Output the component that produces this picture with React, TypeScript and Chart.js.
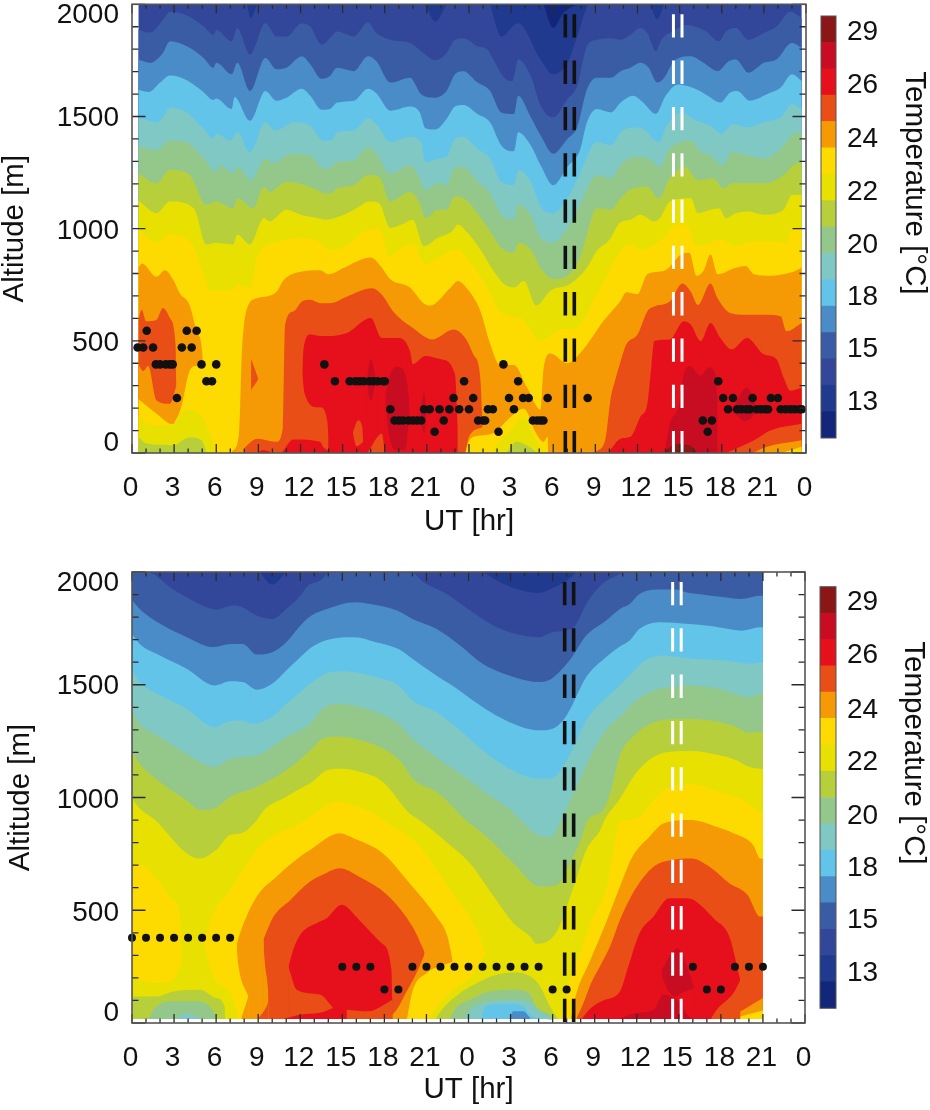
import React, { useEffect, useRef } from "react";
import { Chart, registerables } from "chart.js";
Chart.register(...registerables);

type P = number[][];
const FONT = "'Liberation Sans', Arial, sans-serif";
const FS = 28;
const TITLE_FS = 29.5;

// band colours, coldest to warmest
const bandColors = ["#13277a","#1f3a8f","#33479a","#3a5ca5","#4a8cc8","#62c4e8","#80c8c4","#93c88a","#b8cf3c","#e8e000","#fedb00","#f59a05","#e84e15","#e60f1c","#c80d22","#8a1618"];
const colorbarLabels = ["29","26","24","22","20","18","15","13"];
const colorbarLabelAt = [15.4,13.39,11.32,9.33,7.3,5.32,3.35,1.34];
const xTickLabels = ["0","3","6","9","12","15","18","21","0","3","6","9","12","15","18","21","0"];
const yTickLabels = ["0","500","1000","1500","2000"];
const yTickLabelAt = [45,487,987,1494,1950];
const blackDash = [30.86,31.5];
const whiteDash = [38.56,39.17];

// ---------- upper panel: isotherm heights [hour, metres] ----------
const tBase:P=[[.45,2000],[47.7,2000]];
const tDark1:P=[[8.2,2000],[8.45,1938],[8.9,2000]];
const tDark2:P=[[20.9,2000],[21.6,1923],[22.4,2000]];
const tDark3:P=[[25.5,2000],[26.3,1857],[27.5,1916],[29.1,1754],[30,1688],[31,1739],[31.7,1857],[32.4,1989],[32.5,2000]];
const tDark4:P=[[36.9,2000],[37.4,1933],[37.9,2000]];
const tNavy:P=[[29.3,2000],[30,1894],[30.7,1960],[31.7,2000]];
const tA:P=[[.45,1886],[1.3,1874],[2.2,1930],[2.7,1967],[4.1,1945],[5.1,1901],[5.8,1864],[6,1886],[7.1,1835],[7.5,1894],[8.4,1776],[9.5,1916],[10.3,1857],[11,1857],[12.1,1916],[12.7,1901],[13.5,1820],[14.2,1857],[14.6,1879],[15.8,1857],[16.8,1919],[17.4,1872],[18.4,1842],[19.8,1827],[20.6,1791],[21.6,1751],[22.4,1783],[23,1842],[23.6,1849],[24.6,1813],[25.3,1798],[25.6,1768],[26.5,1673],[27.1,1658],[27.5,1754],[28.4,1680],[29.1,1548],[30,1496],[31,1577],[31.7,1636],[32.4,1813],[33.1,1842],[34.1,1849],[34.8,1842],[35.5,1864],[36.2,1894],[36.7,1872],[37.3,1791],[37.7,1842],[38.5,1879],[39.5,1908],[40.9,1879],[41.8,1835],[42.3,1879],[43,1894],[43.9,1842],[45,1872],[45.9,1901],[46.9,1967],[47.7,1938]];
const tB:P=[[.45,1754],[1.3,1739],[2.2,1783],[2.7,1835],[3.9,1813],[5.1,1761],[5.8,1717],[6,1739],[7.1,1688],[7.5,1739],[8.4,1614],[9.5,1761],[10.3,1710],[11,1717],[12.1,1768],[12.7,1732],[13.5,1668],[14.1,1680],[14.6,1717],[15.8,1702],[16.8,1768],[17.4,1746],[18.4,1651],[19.8,1673],[20.6,1599],[21.5,1584],[22.4,1614],[23,1688],[23.6,1702],[24.6,1651],[25.5,1614],[26.3,1518],[27.2,1511],[27.5,1592],[28.4,1496],[29.1,1415],[30,1334],[31,1400],[31.7,1452],[32.4,1621],[33.1,1673],[34.1,1673],[34.8,1702],[35.5,1717],[36.2,1739],[36.8,1717],[37.4,1651],[37.9,1673],[38.6,1746],[39.8,1768],[40.7,1739],[41.7,1702],[42.5,1746],[43,1754],[43.9,1695],[45,1739],[45.9,1754],[47,1827],[47.7,1805]];
const tC:P=[[.45,1618],[1.2,1609],[2,1651],[2.7,1683],[3.9,1662],[5,1614],[5.8,1574],[6,1580],[7.1,1533],[7.3,1587],[8.4,1481],[9.5,1614],[10.3,1570],[11,1584],[12.1,1624],[12.7,1592],[13.5,1530],[14.1,1533],[14.6,1562],[15.8,1570],[16.8,1624],[17.4,1604],[18.4,1526],[19.8,1545],[20.5,1518],[20.9,1448],[21.6,1442],[22.4,1489],[23,1545],[23.6,1551],[24.6,1511],[25.5,1474],[26.3,1371],[27.2,1345],[27.5,1430],[28.4,1371],[29.1,1283],[30,1194],[31,1275],[31.9,1349],[32.4,1474],[33.1,1533],[34.1,1518],[34.8,1562],[35.7,1592],[36.4,1562],[37.3,1511],[38,1592],[38.9,1643],[40.2,1621],[41,1592],[41.9,1562],[42.6,1607],[43.1,1614],[44,1570],[45.2,1599],[46.2,1629],[47,1688],[47.7,1658]];
const tD:P=[[.45,1496],[1.75,1474],[2.2,1496],[2.7,1540],[3.9,1518],[5.1,1445],[5.8,1400],[6,1423],[7,1393],[7.5,1430],[8.4,1342],[9.5,1474],[10.2,1437],[11,1459],[11.5,1474],[12.7,1459],[13.6,1393],[14.2,1393],[14.6,1430],[15.8,1437],[16.8,1492],[17.4,1467],[18.4,1386],[19.8,1408],[20.6,1386],[20.9,1297],[21.8,1312],[22.4,1320],[23,1400],[23.6,1408],[24.6,1356],[25.5,1312],[26.3,1209],[27.2,1194],[27.5,1261],[28.4,1209],[29.1,1099],[30,1069],[31,1135],[31.9,1246],[33.1,1386],[34.1,1371],[34.8,1430],[35.7,1452],[36.4,1445],[37.5,1386],[38.1,1459],[39.1,1518],[40.2,1481],[41.2,1459],[42,1423],[42.8,1467],[43.8,1452],[45,1474],[46.2,1496],[47,1555],[47.7,1533]];
const tE:P=[[.45,1368],[1.75,1349],[2.7,1393],[3.9,1386],[5.1,1312],[6,1253],[6.3,1283],[7.2,1246],[7.5,1275],[8.5,1216],[9.5,1312],[10.1,1290],[11,1327],[11.5,1334],[12.7,1327],[13.6,1268],[14.2,1275],[14.6,1297],[15.8,1305],[16.8,1364],[17.4,1334],[18.4,1246],[19.8,1283],[20.5,1224],[20.9,1172],[21.8,1202],[22.4,1194],[23,1275],[23.6,1275],[24.6,1209],[25.5,1158],[26.3,1062],[27.2,1040],[27.5,1106],[28.4,1062],[29.1,959],[30,937],[31,1003],[31.9,1106],[33.1,1238],[34.1,1224],[34.8,1283],[35.8,1320],[36.8,1312],[37.6,1275],[38.2,1349],[39.8,1393],[40.5,1342],[41.2,1327],[42,1283],[42.8,1342],[43.8,1327],[45,1312],[46.4,1371],[47.1,1423],[47.7,1430]];
const tF:P=[[.45,1246],[1.75,1202],[2.7,1261],[4.1,1239],[5.3,1106],[6,1121],[7.2,1091],[7.5,1135],[8.6,1091],[9.4,1187],[9.8,1165],[11,1209],[13.2,1172],[13.6,1158],[14.2,1158],[14.6,1180],[15.8,1194],[16.8,1239],[17.6,1231],[18.4,1121],[19.8,1165],[20.5,1113],[20.9,1047],[21.8,1084],[22.4,1084],[23,1143],[23.6,1135],[24.6,1069],[25.5,988],[26.3,915],[27.2,893],[27.5,937],[28.4,907],[29.1,826],[30,775],[31,790],[31.9,871],[32.4,974],[33.1,1091],[34.1,1084],[34.8,1135],[35.7,1180],[36.7,1187],[37.5,1135],[38.3,1224],[39.4,1275],[40.3,1216],[41.4,1224],[42.1,1180],[42.8,1202],[45,1202],[46.4,1238],[47.1,1283],[47.7,1297]];
const tG:P=[[.45,1125],[1.75,1069],[2.7,1121],[4.4,1091],[5.3,929],[6,937],[7.2,929],[7.5,974],[8.4,929],[9.4,1047],[9.8,1032],[11,1084],[12,1062],[13.2,1047],[13.8,1040],[15.1,1062],[16,1091],[16.9,1121],[17.6,1113],[18.4,1003],[19.2,1018],[20,1040],[20.8,922],[21.8,959],[22.8,988],[23.2,1018],[23.8,988],[24.8,907],[25.6,826],[26.5,753],[27.2,738],[27.9,767],[28.8,657],[29.8,723],[31.2,753],[32.4,826],[33.1,900],[34,950],[34.8,1030],[35.5,1040],[36.2,1062],[37.2,1032],[37.6,1047],[38.3,1121],[39.8,1136],[40.3,1069],[41.2,1084],[41.8,1091],[42.3,1047],[43,1069],[43.9,1077],[45,1062],[46.4,1084],[47,1150],[47.7,1150]];
const tH:P=[[.45,996],[1.75,937],[2.7,974],[4.3,930],[5.1,797],[5.6,723],[7.2,731],[7.5,753],[8.4,738],[8.9,871],[9.1,900],[10.3,937],[12,959],[13.2,944],[14.1,907],[15.3,922],[16.2,974],[17.6,1003],[18.3,878],[19.2,915],[20,930],[20.9,841],[21.8,871],[23.2,907],[23.8,871],[25,768],[26.2,635],[27.9,591],[29.1,502],[30.7,554],[31.5,554],[33.1,708],[34.8,900],[35.5,929],[36.2,907],[37.9,959],[38.8,1018],[39.5,1018],[40.2,922],[41.2,937],[41.9,952],[43,922],[44.3,944],[45.2,944],[46.6,937],[47.1,1003],[47.7,1003]];
// first-night warm lobes and the cool air under them
const tOrange1:P=[[.45,825],[.7,845],[1.75,786],[2.35,815],[2.95,771],[3.4,712],[4.1,660],[4.6,543],[5,454],[5.05,390]];
const tFlame1:P=[[.45,594],[.7,638],[1,587],[1.75,594],[2.2,646],[2.7,602],[3.1,484],[3.17,310]];
const tFlame1Under:P=[[.45,396],[.8,366],[1.15,388],[1.75,234],[2.7,219],[3.2,307]];
const tYellowLow1:P=[[.45,241],[1.75,175],[2.9,128],[3.5,204],[4.1,366],[4.6,388],[5.1,388]];
const tLemonLow1:P=[[.45,167],[1.3,123],[2.8,123],[3.4,175],[4.1,192],[4.85,167],[5.55,86],[5.9,13]];
const tLimeLow1:P=[[.45,72],[1.05,42],[2.95,35],[4.1,69],[4.95,57],[5.3,5]];
// first day
const tOrange2:P=[[7.1,5],[7.6,72],[7.7,204],[7.8,410],[8.2,646],[8.9,690],[10.3,719],[10.8,771],[12,808],[13.4,815],[14,797],[15.1,826],[17,871],[17.7,834],[18.4,775],[19.8,738],[20.8,665],[21.2,657],[22.7,738],[23.2,767],[23.8,738],[24.8,635],[25.5,488],[26.2,392],[27.2,392],[28.1,296],[29.1,193],[29.3,370],[29.8,444],[31,400],[32,451],[33.6,591],[34.8,679],[35.2,716],[36,708],[36.7,797],[37.9,812],[39.1,885],[39.7,893],[40.2,790],[40.7,812],[41.2,885],[41.7,797],[43,826],[43.7,834],[44.3,797],[45.5,790],[46.9,804],[47.7,826]];
const tFlameTip:P=[[8.48,420],[8.97,335]];
const tFlameTipUnder:P=[[8.45,278],[9,329]];
const tFlame2:P=[[8.05,27],[8.9,64],[10.3,50],[10.75,116],[10.9,572],[11.5,631],[12.1,675],[12.7,683],[13.4,668],[14.1,668],[15.3,697],[17.1,734],[17.8,705],[18.6,631],[20,557],[21.4,506],[22.9,550],[23.8,506],[24.3,440],[24.8,337],[24.97,120]];
const tFlame2Under:P=[[23.75,5],[24,72],[25,116]];
const tRed1:P=[[12.13,370],[12.2,454],[12.7,528],[13.4,521],[13.9,521],[15.3,535],[17,602],[17.8,513],[19,513],[19.8,454],[20,396],[20.9,432],[22,418],[23,351],[23.2,116]];
const tRed1Under:P=[[12.1,366],[12.3,263],[13.2,204],[13.4,204],[13.9,145],[14,72]];
const tRedGround:P=[[10.7,5],[11.5,60],[13.4,50],[13.6,28],[14.1,5]];
const tRedSpeck:P=[[9,5],[9.35,13],[9.85,5]];
const tCrimsonA:P=[[16.74,335],[17,418],[17.36,335]];
const tCrimsonAUnder:P=[[16.7,329],[17,234],[17.4,329]];
const tCrimsonB:P=[[18.04,255],[18.4,351],[18.9,384],[19.5,344],[19.76,215]];
const tCrimsonBUnder:P=[[18,248],[18.25,101],[18.75,13],[19.45,13],[19.8,204]];
const tCrimsonC:P=[[20.54,180],[20.8,270],[20.96,180]];
const tCrimsonCUnder:P=[[20.5,175],[20.8,86],[21,175]];
const tLobeA:P=[[15.74,96],[16.1,145],[16.4,116],[16.46,55]];
const tLobeAUnder:P=[[15.7,94],[16,30],[16.5,50]];
const tLobeB:P=[[16.8,5],[17.8,86],[18,5]];
// second night
const tYellowLow2:P=[[23.75,5],[24.1,64],[25,79],[25.9,94],[26.7,145],[27.9,197],[28.8,86],[29.3,50],[29.6,72],[29.65,5]];
const tLemonLow2:P=[[25.6,5],[26.2,50],[26.9,94],[27.9,160],[28.5,86],[29.1,27],[29.3,5]];
const tLimeLow2:P=[[26.7,5],[27.4,50],[28.3,27],[28.8,5]];
// second day
const tFlame3:P=[[33,5],[33.7,57],[34.1,248],[34.4,322],[34.8,410],[35.2,484],[36,528],[36.7,631],[37.2,653],[38.3,675],[39.2,756],[39.8,719],[40.3,660],[41.2,756],[41.7,690],[42.6,624],[43.6,616],[45.2,616],[46.2,609],[46.6,543],[47.7,580]];
const tRed3:P=[[33.95,5],[34.8,64],[35.5,72],[36.2,160],[36.7,219],[37,396],[37.2,499],[38.3,506],[39.3,587],[39.8,572],[40.5,499],[41.2,580],[41.9,513],[42.7,462],[43.8,513],[45,440],[45.9,418],[46.4,337],[46.9,278],[47.7,292]];
const tCrimson3:P=[[38,28],[38.3,131],[38.9,204],[39.3,351],[39.7,388],[40.5,344],[41.1,381],[41.55,351],[41.7,234]];
const tMaroon3:P=[[38,13],[38.8,39],[39.7,35],[40.2,5]];
const tCrimson4:P=[[42.74,192],[43.8,292],[44.56,192]];
const tCrimson4Under:P=[[42.7,189],[43.7,142],[44.6,189]];
const tCornerFlame:P=[[42.4,3],[44.3,57],[45.5,101],[47.7,130]];
const tCornerOrange:P=[[44.3,3],[45.2,28],[47.7,57]];
const tCornerYellow:P=[[46.4,3],[47.7,28]];
// boundary-layer height dots, upper panel
const tDotH=[.4,.8,1.05,1.5,1.7,2,2.4,2.7,2.9,3.2,3.55,3.9,4.25,4.6,4.95,5.3,5.7,6,13.7,14.45,15.5,15.9,16.2,16.5,16.9,17.2,17.5,17.9,18,18.4,18.7,19,19.3,19.7,20,20.3,20.6,20.8,21.2,21.55,21.9,22.2,22.6,22.9,23.3,23.65,24,24.3,24.65,25,25.15,25.35,25.7,26.1,26.45,26.85,27.2,27.5,27.85,28.25,28.55,28.85,29.1,29.3,29.6,32.45,40.65,41,41.3,41.75,42.1,42.45,42.8,43.1,43.4,43.75,44,44.2,44.5,44.8,45.1,45.3,45.5,46,46.2,46.55,46.9,47.2,47.55,47.7];
const tDotZ=[470,470,545,470,395,395,395,395,395,245,470,545,470,545,395,320,320,395,395,320,320,320,320,320,320,320,320,320,320,195,145,145,145,145,145,145,145,195,195,95,195,145,195,245,195,320,195,245,145,145,145,195,195,95,395,245,195,320,245,245,145,145,145,145,245,245,145,95,145,320,245,195,245,195,195,195,195,245,195,195,195,195,245,245,195,195,195,195,195,195];

// ---------- lower panel ----------
const bBase:P=[[0,2000],[45,2000]];
const bDark1:P=[[9.1,2000],[10,1944],[11,2000]];
const bDark2:P=[[25,2000],[26.5,1947],[27.9,1917],[29,1907],[30,1929],[31,1961],[31.7,2000]];
const bA:P=[[0,2000],[1.05,2000],[2.9,1925],[4.8,1858],[6,1833],[7.2,1851],[7.9,1843],[8.9,1807],[10,1792],[11,1836],[12,1895],[12.55,1939],[13.4,1961],[14.2,2000],[19.9,2000],[20.8,1954],[22.65,1895],[24.3,1821],[26,1755],[27.9,1718],[29,1711],[30,1733],[31.5,1755],[32.4,1858],[33.4,1939],[34.8,1991],[35.1,2000],[45,2000]];
const bB:P=[[0,1876],[.55,1836],[2,1770],[3.9,1711],[5.8,1667],[7,1681],[7.9,1681],[8.9,1634],[10,1644],[11,1689],[12,1762],[12.8,1807],[13.9,1836],[15.9,1866],[17,1858],[18.9,1829],[20,1792],[21.7,1748],[23.4,1674],[25,1593],[26.9,1541],[29,1512],[29.9,1526],[31.2,1607],[32.4,1718],[33.8,1784],[34.8,1836],[35.5,1858],[36.2,1902],[37.6,1922],[38.8,1922],[39.5,1910],[40.9,1898],[42.3,1888],[43.4,1880],[44.8,1895],[45,1895]];
const bC:P=[[0,1726],[.55,1681],[2,1630],[3.9,1571],[5.9,1497],[7,1516],[7.9,1512],[8.9,1478],[10,1504],[11,1563],[12,1622],[12.8,1666],[13.9,1699],[15.9,1711],[17.4,1689],[19,1659],[20,1615],[21.7,1541],[23,1490],[25,1401],[26.9,1335],[29,1298],[30,1305],[31,1364],[32.4,1534],[33.8,1622],[34.8,1670],[35.5,1696],[36.2,1748],[37.8,1777],[39.5,1770],[41.4,1759],[43.5,1740],[44.8,1755],[45,1755]];
const bD:P=[[0,1563],[.55,1512],[2,1453],[3.9,1394],[5.9,1312],[7,1339],[7.9,1342],[8.6,1327],[10,1357],[11,1416],[12,1467],[12.7,1504],[13.9,1551],[15,1560],[17.4,1534],[19,1497],[20,1430],[21.7,1379],[23.4,1298],[25,1209],[26.9,1128],[29,1084],[29.9,1084],[31,1165],[32.4,1342],[33.6,1430],[34.8,1497],[35.7,1556],[36.4,1600],[37.8,1630],[40,1615],[42.3,1607],[44.1,1593],[44.8,1600],[45,1600]];
const bE:P=[[0,1386],[.55,1327],[2,1268],[3.9,1194],[5.9,1136],[7,1172],[8.9,1187],[11,1268],[12.7,1327],[13.6,1394],[14.7,1416],[17.4,1379],[19,1327],[20,1261],[21.7,1180],[23.4,1106],[25.3,1018],[26.9,951],[29,833],[29.9,826],[30.6,900],[31.7,1047],[33.1,1231],[34.1,1320],[34.8,1357],[35.7,1416],[36.9,1467],[38.3,1490],[39.5,1497],[41.9,1482],[44,1445],[44.8,1460],[45,1460]];
const bF:P=[[0,1202],[.55,1150],[2,1069],[3.9,988],[4.9,944],[5.9,951],[7,1003],[8.9,1047],[11,1121],[12.2,1180],[12.7,1209],[13.6,1261],[14.7,1271],[16.2,1256],[18.1,1209],[19.3,1150],[20,1084],[21.9,1018],[23.8,900],[25.3,826],[27.2,708],[29.1,605],[30.3,612],[31,679],[32,812],[32.5,900],[33.6,944],[34.1,1018],[34.8,1187],[35.7,1268],[36.8,1320],[37.7,1342],[39.5,1349],[42.8,1320],[44,1287],[44.8,1290],[45,1290]];
const bG:P=[[0,995],[.55,951],[1.65,900],[3.9,752],[4.85,730],[6,767],[7,834],[7.8,841],[8.9,900],[9.4,944],[11,1003],[12.2,1047],[12.7,1062],[13.9,1121],[14.8,1128],[16.7,1106],[17.9,1069],[19.8,929],[20.5,900],[22.4,804],[24.1,708],[25.8,561],[27.2,443],[28.5,376],[28.8,351],[30.3,406],[31.5,605],[32.4,767],[33.4,856],[33.7,900],[34.8,995],[36,1113],[37.2,1180],[38.3,1202],[39.8,1206],[41.9,1187],[43.1,1165],[44,1136],[44.8,1128],[45,1128]];
const bYellowL:P=[[0,708],[1.05,686],[2,620],[2.95,546],[3.53,413],[3.54,270]];
const bYellowLUnder:P=[[0,199],[1.75,177],[2.95,192],[3.56,266]];
const bYellow2:P=[[5.13,360],[5.8,487],[7,590],[8.9,767],[10.4,840],[12,885],[12.7,914],[13.9,966],[14.7,981],[16.2,958],[17.4,922],[18.3,880],[20.3,797],[22.7,590],[24.6,413],[25.17,312]];
const bYellow2UnderL:P=[[5.1,354],[5.8,207],[7,133],[7.5,59]];
const bYellow3:P=[[30.6,15],[31.1,162],[31.7,266],[32.9,472],[33.8,590],[34.9,900],[35.5,900],[36.2,914],[37.4,1003],[38.3,1047],[39.9,1059],[41.9,1025],[43.8,981],[44.8,936],[45,936]];
const bOrange1:P=[[7.48,350],[7.7,398],[8.9,561],[10.3,649],[12,738],[12.7,767],[14.8,841],[15.8,819],[17.9,752],[19.8,620],[21.7,472],[22.5,384],[22.87,278]];
const bOrange1UnderL:P=[[7.45,347],[7.6,251],[8.3,118]];
const bOrange1Toe:P=[[7.8,22],[8.3,118]];
const bOrange1UnderR:P=[[19.6,15],[20,140],[21,221],[22.9,273]];
const bLemonNight:P=[[21.1,15],[21.95,89],[22.9,148],[24.1,199],[25.2,310]];
const bFlame1:P=[[9.38,372],[10.1,472],[11.3,546],[12.7,627],[13.6,657],[14.8,686],[16.2,649],[18.2,568],[20,428],[20.87,315]];
const bFlame1UnderL:P=[[9.35,369],[9.5,251],[9.7,148],[9.75,74]];
const bFlame1Toe:P=[[9,18],[9.6,74],[9.75,100]];
const bFlame1UnderR:P=[[18,15],[18.8,52],[19.4,118],[20.4,236],[20.9,310]];
const bRed1:P=[[11.18,255],[11.5,325],[12,391],[13.4,450],[13.9,465],[14.95,524],[16.2,457],[17.8,354],[18.5,236],[18.57,106]];
const bRed1UnderL:P=[[11.15,251],[11.75,148],[13.4,126],[14.35,67]];
const bRedGround:P=[[10.9,20],[12,37],[13.4,45],[14.35,67]];
const bRed1UnderR:P=[[15.3,59],[16.85,52],[18.6,103]];
const bOrange2:P=[[31.3,20],[31.7,133],[32.6,266],[33.8,443],[34.8,605],[35.7,738],[36.9,826],[37.9,885],[39.9,900],[41.7,870],[42.9,841],[44.3,789],[44.8,730],[45,730]];
const bFlame2:P=[[31.7,20],[32.2,89],[32.75,177],[33.5,266],[34.1,340],[34.8,457],[35.85,590],[37.2,693],[38.45,723],[39.9,730],[41.2,693],[42.6,620],[43.9,568],[44.8,472],[45,472]];
const bFlame2Under:P=[[41.55,22],[43.1,44],[45,111]];
const bYellowCorner:P=[[42.9,20],[44.8,52],[45,55]];
const bRed2:P=[[32.1,20],[32.6,59],[33.6,100],[34.8,140],[35.4,251],[36.2,398],[37.2,472],[38.3,553],[39.6,553],[41.6,457],[42.6,384],[43.37,195]];
const bRed2Under:P=[[41.3,20],[41.7,59],[42.9,133],[43.4,192]];
const bCrimson:P=[[37.78,238],[38.9,332],[39.5,266],[40.07,158]];
const bCrimsonUnder:P=[[37.75,236],[37.9,192],[38.8,118],[39.2,133],[40.1,155]];
const bCrimsonGround:P=[[34.8,20],[35.95,44],[37.2,59],[37.9,126],[38.4,118],[38.9,103],[39.5,44],[39.9,20]];
const bLimeL:P=[[0,118],[1.75,118],[2.95,140],[4.85,148],[6,111],[6.6,74],[6.65,22]];
const bGreenL:P=[[1.2,22],[1.75,74],[3.2,96],[4.6,96],[5.8,52],[6,22]];
const bTealL:P=[[3.2,22],[3.9,44],[4.85,22]];
const bLimeN:P=[[21.6,15],[22.2,67],[23.4,133],[24.6,177],[26,214],[27.2,224],[28.4,207],[29.1,163],[29.8,74],[30.4,15]];
const bGreenN:P=[[22.65,15],[23.1,67],[24.1,104],[25.5,140],[27.4,148],[28.4,126],[28.8,74],[29.8,37],[30.2,15]];
const bTealN:P=[[23.7,15],[24.1,59],[25,89],[26.9,103],[28.2,96],[29.1,52],[29.95,15]];
const bSkyN:P=[[24.9,15],[25.2,74],[26.6,85],[27.9,74],[28.5,30],[30,15]];
const bBlueN:P=[[26.9,18],[27.2,52],[27.9,52],[28.4,22]];
const bDotH=[0,1,2,3,4,5,6,7,15,16,17,18,19,20,21,22,23,24,25,26,27,28,29,30,31,40,41,42,43,44,45];
const bDotZ=[378,378,378,378,378,378,378,378,250,250,250,149,149,250,250,250,250,250,250,250,250,250,250,149,149,250,149,149,250,250,250];

// paint order, first to last: [isotherm, band colour index, "end" to fill upwards]
type Layer=[P,number,boolean?];
const topLayers:Layer[]=[[tBase,2],[tDark1,1,true],[tDark2,1,true],[tDark3,1,true],[tDark4,1,true],[tNavy,0,true],[tA,3],[tB,4],[tC,5],[tD,6],[tE,7],[tF,8],[tG,9],[tH,10],
[tOrange1,11],[tFlame1,12],[tFlame1Under,11],[tYellowLow1,10],[tLemonLow1,9],[tLimeLow1,8],
[tOrange2,11],[tFlameTip,12],[tFlameTipUnder,11],[tFlame2,12],[tFlame2Under,11],[tRed1,13],[tRed1Under,12],[tRedGround,13],[tRedSpeck,13],
[tCrimsonA,14],[tCrimsonAUnder,13],[tCrimsonB,14],[tCrimsonBUnder,13],[tCrimsonC,14],[tCrimsonCUnder,13],[tLobeA,12],[tLobeAUnder,13],[tLobeB,12],
[tYellowLow2,10],[tLemonLow2,9],[tLimeLow2,8],
[tFlame3,12],[tRed3,13],[tCrimson3,14],[tMaroon3,15],[tCrimson4,14],[tCrimson4Under,13],[tCornerFlame,12],[tCornerOrange,11],[tCornerYellow,10]];
const bottomLayers:Layer[]=[[bBase,2],[bDark1,1,true],[bDark2,1,true],[bA,3],[bB,4],[bC,5],[bD,6],[bE,7],[bF,8],[bG,9],
[bYellowL,10],[bYellowLUnder,9],[bYellow2,10],[bYellow2UnderL,9],[bYellow3,10],
[bOrange1,11],[bOrange1UnderL,10],[bOrange1Toe,11],
[bFlame1,12],[bFlame1UnderL,11],[bFlame1Toe,12],[bFlame1UnderR,11],
[bRed1,13],[bRed1UnderL,12],[bRedGround,13],[bRed1UnderR,12],
[bOrange1UnderR,10],[bLemonNight,9],
[bLimeL,8],[bGreenL,7],[bTealL,6],[bLimeN,8],[bGreenN,7],[bTealN,6],[bSkyN,5],[bBlueN,4],
[bOrange2,11],[bFlame2,12],[bFlame2Under,11],[bYellowCorner,10],[bRed2,13],[bRed2Under,12],[bCrimson,14],[bCrimsonUnder,13],[bCrimsonGround,14]];

const noPad = (s: any) => { s.paddingLeft = 0; s.paddingRight = 0; s.paddingTop = 0; s.paddingBottom = 0; };

const frameAndTicks = {
  id: "frameAndTicks",
  afterDraw(chart: any) {
    const { ctx, chartArea: a, scales } = chart;
    const x = scales.x, y = scales.y;
    ctx.save();
    ctx.strokeStyle = "#2b2b2b";
    ctx.lineWidth = 1.3;
    ctx.beginPath();
    for (let h = 0; h <= 48; h++) {
      const px = x.getPixelForValue(h), len = h % 3 === 0 ? 9 : 4.5;
      ctx.moveTo(px, a.bottom); ctx.lineTo(px, a.bottom - len);
      ctx.moveTo(px, a.top); ctx.lineTo(px, a.top + len);
    }
    for (let z = 0; z <= 2000; z += 100) {
      const py = y.getPixelForValue(z), len = z % 500 === 0 ? 13.5 : 6.5;
      ctx.moveTo(a.left, py); ctx.lineTo(a.left + len, py);
      ctx.moveTo(a.right, py); ctx.lineTo(a.right - len, py);
    }
    ctx.stroke();
    ctx.strokeStyle = "#555";
    ctx.lineWidth = 1.6;
    ctx.strokeRect(a.left, a.top, a.right - a.left, a.bottom - a.top);
    ctx.restore();
  },
};

function dashSet(h: number, color: string, w: number) {
  return {
    data: [{ x: h, y: 2000 }, { x: h, y: 0 }],
    borderColor: color, borderWidth: w, borderDash: [23.3, 23], borderDashOffset: 36.3,
    pointRadius: 0, fill: false, tension: 0,
  };
}

function contourChart(canvas: HTMLCanvasElement, o: any) {
  const paint = o.layers.map(([pts, c, up]: Layer) => ({
    data: pts.map(([x, y]) => ({ x, y })),
    backgroundColor: bandColors[c], borderColor: bandColors[c], borderWidth: 0,
    pointRadius: 0, cubicInterpolationMode: "monotone", fill: up ? "end" : o.base,
  }));
  const extras = [
    ...blackDash.map((h) => dashSet(h, "#111", 3.6)),
    ...whiteDash.map((h) => dashSet(h, "#fff", 3)),
    {
      data: o.dotH.map((h: number, i: number) => ({ x: h, y: o.dotZ[i] })),
      showLine: false, pointRadius: o.dotR, pointBackgroundColor: "#111", pointBorderWidth: 0,
      clip: false, fill: false,
    },
  ];
  const all = [...paint, ...extras];
  all.forEach((d: any, i: number) => (d.order = all.length - i));
  return new Chart(canvas, {
    type: "line",
    data: { datasets: all as any },
    plugins: [frameAndTicks],
    options: {
      animation: false, responsive: false, events: [],
      layout: { padding: o.padding } as any,
      plugins: { legend: { display: false }, tooltip: { enabled: false } },
      scales: {
        x: {
          type: "linear", min: 0, max: 48,
          grid: { display: false, drawTicks: false }, border: { display: false },
          afterFit: (s: any) => { s.height = o.xHeight; noPad(s); },
          ticks: {
            stepSize: 3, autoSkip: false, maxRotation: 0, padding: o.xPad, labelOffset: -1.5,
            color: "#111", font: { family: FONT, size: FS },
            callback: (_v: any, i: number) => xTickLabels[i],
          },
          title: { display: true, text: "UT [hr]", color: "#111", font: { family: FONT, size: TITLE_FS, lineHeight: 1 }, padding: { top: 0, bottom: o.xTitlePad } },
        },
        y: {
          type: "linear", min: 0, max: 2000,
          grid: { display: false, drawTicks: false }, border: { display: false },
          afterFit: (s: any) => { s.width = 132; noPad(s); },
          afterBuildTicks: (s: any) => { s.ticks = yTickLabelAt.map((value) => ({ value })); },
          ticks: {
            padding: 13, autoSkip: false, color: "#111", font: { family: FONT, size: FS },
            callback: (_v: any, i: number) => yTickLabels[i],
          },
          title: { display: true, text: "Altitude [m]", color: "#111", font: { family: FONT, size: TITLE_FS, lineHeight: 1 }, padding: { top: o.yTitlePad, bottom: 0 } },
        },
      },
    },
  });
}

const colorbarTitle = {
  id: "colorbarTitle",
  afterDraw(chart: any) {
    const { ctx } = chart;
    ctx.save();
    ctx.translate(102, 183);
    ctx.rotate(Math.PI / 2);
    ctx.font = `${TITLE_FS}px ${FONT}`;
    ctx.fillStyle = "#111";
    ctx.textAlign = "center";
    ctx.textBaseline = "middle";
    ctx.fillText("Temperature [°C]", 0, 0);
    const a = chart.chartArea;
    ctx.restore();
    ctx.save();
    ctx.strokeStyle = "#555";
    ctx.lineWidth = 1;
    ctx.strokeRect(a.left, a.top, a.right - a.left, a.bottom - a.top);
    ctx.restore();
  },
};

function colorbar(canvas: HTMLCanvasElement, padding: any) {
  return new Chart(canvas, {
    type: "bar",
    data: {
      labels: ["T"],
      datasets: bandColors.map((c) => ({ data: [1], backgroundColor: c, barPercentage: 1, categoryPercentage: 1, borderWidth: 0 })),
    },
    plugins: [colorbarTitle],
    options: {
      animation: false, responsive: false, events: [],
      layout: { padding } as any,
      plugins: { legend: { display: false }, tooltip: { enabled: false } },
      scales: {
        x: { display: false, stacked: true },
        y: {
          position: "right", stacked: true, min: 0, max: 16,
          grid: { display: false, drawTicks: false }, border: { display: false },
          afterFit: (s: any) => { s.width = 94; noPad(s); },
          afterBuildTicks: (s: any) => { s.ticks = colorbarLabelAt.map((value) => ({ value })); },
          ticks: {
            padding: 11, autoSkip: false, color: "#111", font: { family: FONT, size: FS },
            callback: (_v: any, i: number) => colorbarLabels[i],
          },
        },
      },
    },
  });
}

export default function App() {
  const c1 = useRef<HTMLCanvasElement>(null);
  const c2 = useRef<HTMLCanvasElement>(null);
  const c3 = useRef<HTMLCanvasElement>(null);
  const c4 = useRef<HTMLCanvasElement>(null);
  useEffect(() => {
    const charts = [
      contourChart(c1.current!, { layers: topLayers, base: "start", dotH: tDotH, dotZ: tDotZ, dotR: 4.3, padding: { left: 0, right: 9, top: 1, bottom: 0 }, xHeight: 92, xPad: 18, xTitlePad: 8, yTitlePad: 0 }),
      contourChart(c2.current!, { layers: bottomLayers, base: { value: 18 }, dotH: bDotH, dotZ: bDotZ, dotR: 4, padding: { left: 0, right: 10, top: 12, bottom: 0 }, xHeight: 82, xPad: 18, xTitlePad: 0, yTitlePad: 6 }),
      colorbar(c3.current!, { left: 9, right: 0, top: 16, bottom: 22 }),
      colorbar(c4.current!, { left: 9, right: 0, top: 16.7, bottom: 21.7 }),
    ];
    return () => charts.forEach((c) => c.destroy());
  }, []);
  const abs = (left: number, top: number): React.CSSProperties => ({ position: "absolute", left, top });
  return (
    <div style={{ position: "absolute", left: 0, top: 0, width: 930, height: 1110, background: "#fff", overflow: "hidden" }}>
      <canvas ref={c1} width={815} height={545} style={abs(0, 0)} />
      <canvas ref={c2} width={815} height={545} style={abs(0, 560)} />
      <canvas ref={c3} width={118} height={460} style={abs(812, 0)} />
      <canvas ref={c4} width={119} height={460} style={abs(811, 570)} />
    </div>
  );
}
